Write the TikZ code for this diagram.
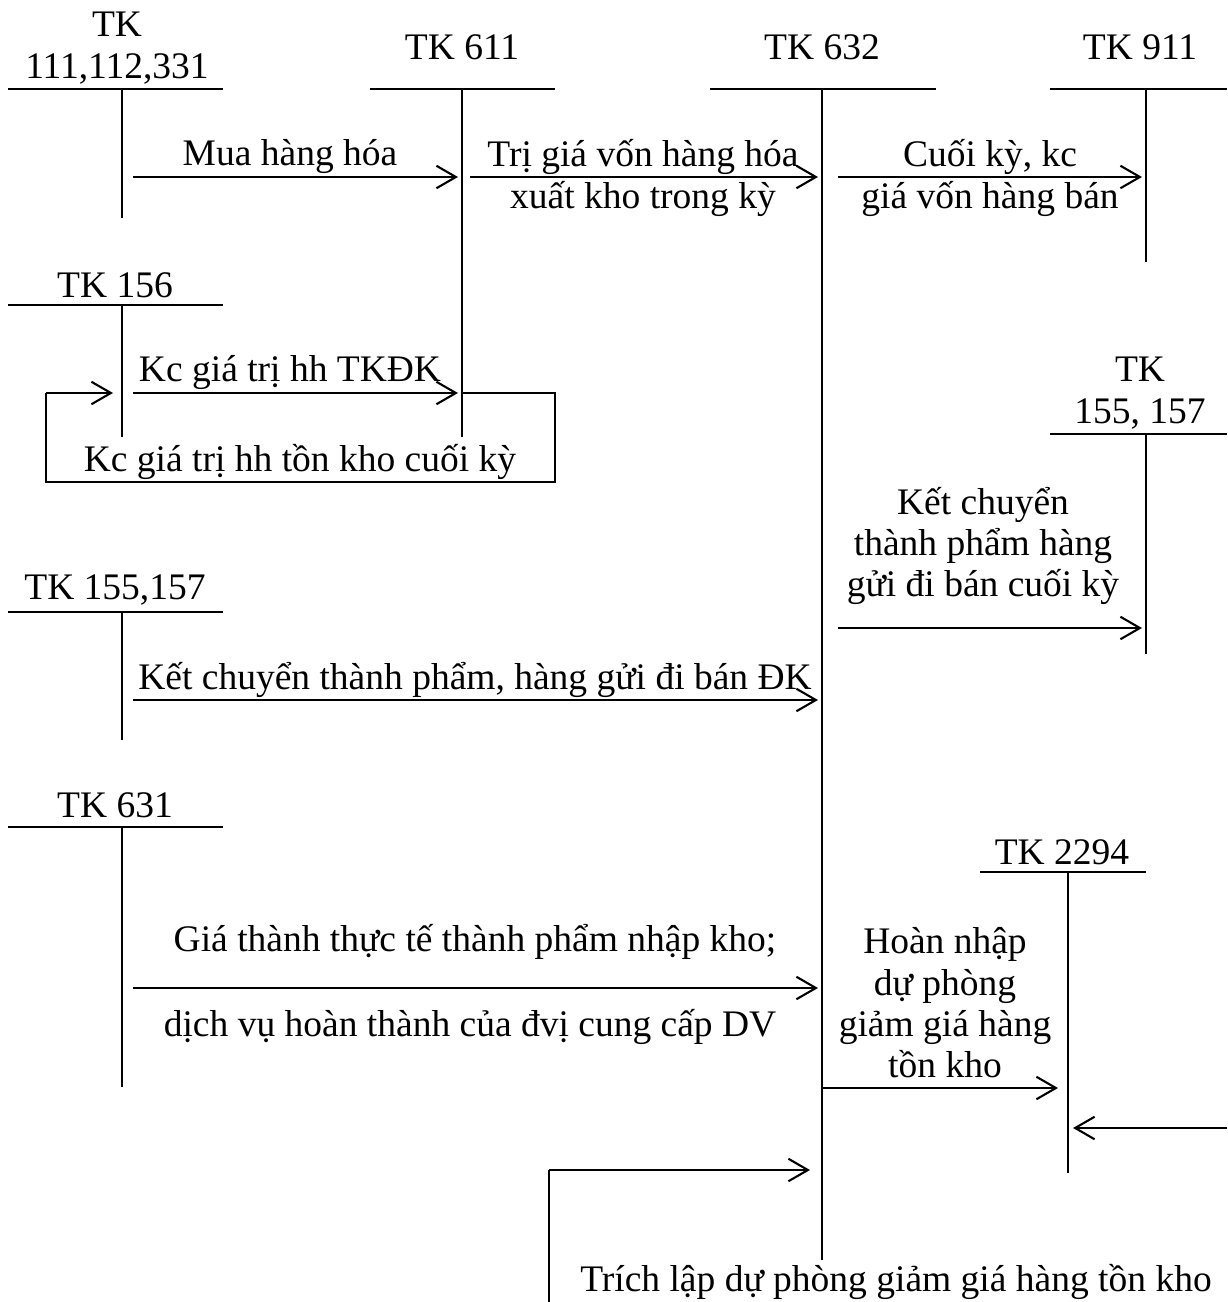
\documentclass[tikz,border=0pt]{standalone}
\usepackage{fontspec}
\setmainfont{Liberation Serif}
\usetikzlibrary{arrows.meta}

\tikzset{
  acct/.style={line width=0.4pt},
  flow/.style={line width=0.7pt, -{Straight Barb[length=6.5pt,width=7.5pt]}},
  lbl/.style={inner sep=0pt, align=center, font=\fontsize{12.5}{13.8}\selectfont},
}

\begin{document}
\begin{tikzpicture}[x=0.3333pt, y=-0.3333pt]
  \useasboundingbox (0,0) rectangle (1227,1302);

  % TK 111,112,331
  \node[lbl] (tk111) at (117,48) {TK\\111,112,331};
  \coordinate (tk111L) at (8,89);   \coordinate (tk111R) at (223,89);
  \coordinate (tk111T) at (122,89); \coordinate (tk111B) at (122,218);
  \draw[acct] (tk111L) -- (tk111R) (tk111T) -- (tk111B);

  % TK 611
  \node[lbl] (tk611) at (462,47) {TK 611};
  \coordinate (tk611L) at (370,89); \coordinate (tk611R) at (555,89);
  \coordinate (tk611T) at (462,89); \coordinate (tk611B) at (462,437);
  \draw[acct] (tk611L) -- (tk611R) (tk611T) -- (tk611B);

  % TK 632
  \node[lbl] (tk632) at (822,47) {TK 632};
  \coordinate (tk632L) at (710,89); \coordinate (tk632R) at (936,89);
  \coordinate (tk632T) at (822,89); \coordinate (tk632B) at (822,1260);
  \draw[acct] (tk632L) -- (tk632R) (tk632T) -- (tk632B);

  % TK 911
  \node[lbl] (tk911) at (1140,47) {TK 911};
  \coordinate (tk911L) at (1050,89); \coordinate (tk911R) at (1227,89);
  \coordinate (tk911T) at (1146,89); \coordinate (tk911B) at (1146,262);
  \draw[acct] (tk911L) -- (tk911R) (tk911T) -- (tk911B);

  % Mua hang hoa
  \coordinate (muaS) at (133,177); \coordinate (muaE) at (458,177);
  \draw[flow] (muaS) -- (muaE);
  \node[lbl] (mua) at (290,157) {Mua hàng hóa};

  % Tri gia von hang hoa xuat kho
  \coordinate (xuatS) at (470,177); \coordinate (xuatE) at (818,177);
  \draw[flow] (xuatS) -- (xuatE);
  \node[lbl] (xuat) at (643,178) {Trị giá vốn hàng hóa\\xuất kho trong kỳ};

  % Cuoi ky kc
  \coordinate (kcS) at (838,177); \coordinate (kcE) at (1142,177);
  \draw[flow] (kcS) -- (kcE);
  \node[lbl] (kc) at (990,178) {Cuối kỳ, kc\\giá vốn hàng bán};

  % TK 156
  \node[lbl] (tk156) at (115,285) {TK 156};
  \coordinate (tk156L) at (8,305);   \coordinate (tk156R) at (223,305);
  \coordinate (tk156T) at (122,305); \coordinate (tk156B) at (122,437);
  \draw[acct] (tk156L) -- (tk156R) (tk156T) -- (tk156B);

  % Kc gia tri hh TKDK
  \coordinate (dkS) at (133,393); \coordinate (dkE) at (458,393);
  \draw[flow] (dkS) -- (dkE);
  \node[lbl] (dk) at (290,373) {Kc giá trị hh TKĐK};

  % vong ket chuyen ton kho cuoi ky
  \coordinate (ckA) at (462,393); \coordinate (ckB) at (46,393);
  \coordinate (ckE) at (113,393);
  \draw[acct] (ckA) -- (555,393) -- (555,482) -- (46,482) -- (ckB);
  \draw[flow] (ckB) -- (ckE);
  \node[lbl] (ck) at (300,462) {Kc giá trị hh tồn kho cuối kỳ};

  % TK 155, 157 (phai)
  \node[lbl] (tk155r) at (1140,393) {TK\\155, 157};
  \coordinate (tk155rL) at (1050,434); \coordinate (tk155rR) at (1227,434);
  \coordinate (tk155rT) at (1146,434); \coordinate (tk155rB) at (1146,654);
  \draw[acct] (tk155rL) -- (tk155rR) (tk155rT) -- (tk155rB);

  % Ket chuyen thanh pham cuoi ky
  \coordinate (tpS) at (838,628); \coordinate (tpE) at (1142,628);
  \draw[flow] (tpS) -- (tpE);
  \node[lbl] (tp) at (983,546) {Kết chuyển\\thành phẩm hàng\\gửi đi bán cuối kỳ};

  % TK 155,157 (trai)
  \node[lbl] (tk155l) at (115,590) {TK 155,157};
  \coordinate (tk155lL) at (8,612);   \coordinate (tk155lR) at (223,612);
  \coordinate (tk155lT) at (122,612); \coordinate (tk155lB) at (122,740);
  \draw[acct] (tk155lL) -- (tk155lR) (tk155lT) -- (tk155lB);

  % Ket chuyen thanh pham DK
  \coordinate (tpdkS) at (133,700); \coordinate (tpdkE) at (818,700);
  \draw[flow] (tpdkS) -- (tpdkE);
  \node[lbl] (tpdk) at (475,680) {Kết chuyển thành phẩm, hàng gửi đi bán ĐK};

  % TK 631
  \node[lbl] (tk631) at (115,805) {TK 631};
  \coordinate (tk631L) at (8,827);   \coordinate (tk631R) at (223,827);
  \coordinate (tk631T) at (122,827); \coordinate (tk631B) at (122,1087);
  \draw[acct] (tk631L) -- (tk631R) (tk631T) -- (tk631B);

  % Gia thanh thuc te
  \coordinate (gtS) at (133,988); \coordinate (gtE) at (818,988);
  \draw[flow] (gtS) -- (gtE);
  \node[lbl] (gt1) at (475,942) {Giá thành thực tế thành phẩm nhập kho;};
  \node[lbl] (gt2) at (470,1027) {dịch vụ hoàn thành của đvị cung cấp DV};

  % TK 2294
  \node[lbl] (tk2294) at (1062,852) {TK 2294};
  \coordinate (tk2294L) at (980,872);   \coordinate (tk2294R) at (1146,872);
  \coordinate (tk2294T) at (1068,872); \coordinate (tk2294B) at (1068,1173);
  \draw[acct] (tk2294L) -- (tk2294R) (tk2294T) -- (tk2294B);

  % Hoan nhap du phong
  \coordinate (hnS) at (822,1088); \coordinate (hnE) at (1058,1088);
  \draw[flow] (hnS) -- (hnE);
  \node[lbl] (hn) at (945,1003) {Hoàn nhập\\dự phòng\\giảm giá hàng\\tồn kho};

  % mui ten tu phai vao TK 2294
  \coordinate (vaoS) at (1227,1128); \coordinate (vaoE) at (1073,1128);
  \draw[flow] (vaoS) -- (vaoE);

  % Trich lap du phong
  \coordinate (tlB) at (549,1302); \coordinate (tlA) at (549,1170);
  \coordinate (tlE) at (810,1170);
  \draw[acct] (tlB) -- (tlA);
  \draw[flow] (tlA) -- (tlE);
  \node[lbl] (tl) at (896,1282) {Trích lập dự phòng giảm giá hàng tồn kho};
\end{tikzpicture}
\end{document}
